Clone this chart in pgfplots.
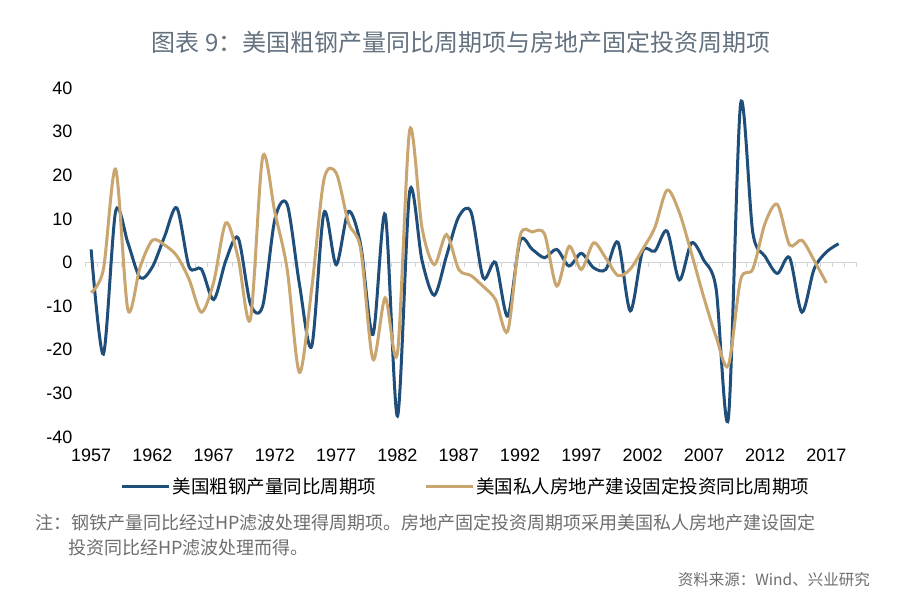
\documentclass[border=0pt]{standalone}
\usepackage{pgfplots}
\pgfplotsset{compat=1.18}
\usepackage{fontspec}
\setmainfont{Liberation Sans}
\newfontfamily\cjk{Noto Sans CJK SC}
\definecolor{steel}{RGB}{30,78,121}
\definecolor{house}{RGB}{201,166,112}
\definecolor{titlec}{RGB}{100,114,128}
\definecolor{notec}{RGB}{110,110,110}
\definecolor{zeroc}{RGB}{210,212,216}
\begin{document}
\begin{tikzpicture}
\useasboundingbox (0pt,0pt) rectangle (900pt,612pt);
\fill[white] (0pt,0pt) rectangle (900pt,612pt);
% title
\node[anchor=center, text=titlec, font=\cjk\fontsize{24}{28}\selectfont] at (461pt,570pt) {图表 9：美国粗钢产量同比周期项与房地产固定投资周期项};
% zero line and small ticks
\draw[zeroc, line width=1.5pt] (85pt,349.5pt) -- (857pt,349.5pt);
\foreach \i in {0,...,63} {\pgfmathsetmacro{\xx}{85+\i*12.25}\draw[zeroc, line width=1pt] (\xx pt,349.5pt) -- (\xx pt,345pt);}
\begin{axis}[
  at={(85pt,175pt)}, anchor=south west,
  scale only axis, width=772pt, height=349pt,
  xmin=1956.5, xmax=2019.5, ymin=-40, ymax=40,
  axis line style={draw=none},
  xtick pos=bottom, ytick pos=left,
  xtick={1957,1962,...,2017}, ytick={-40,-30,...,40},
  major tick length=0pt, tick style={draw=none},
  tick label style={font=\fontsize{18}{20}\selectfont, text=black},
  /pgf/number format/assume math mode=true,
  xticklabel style={/pgf/number format/set thousands separator={}, yshift=-8pt},
  yticklabel style={xshift=-9pt},
  clip=false,
  legend style={at={(0.4935,-0.143)}, anchor=center, draw=none, fill=none,
    legend columns=2, font=\cjk\fontsize{18.5}{20}\selectfont,
    /tikz/every even column/.append style={column sep=46pt},
    inner sep=0pt, cells={anchor=west}},
  legend image code/.code={\draw[#1] (0pt,0pt) -- (47pt,0pt);},
]
\addplot[steel, line width=3pt, smooth, tension=0.5] coordinates {
(1957,3.0) (1958,-21) (1959,11.7) (1960,4.5) (1961,-3.5) (1962,-1) (1963,6) (1964,12.5)
(1965,-1) (1966,-1.5) (1967,-8.5) (1968,0.5) (1969,5.6) (1970,-9.5) (1971,-10) (1972,10)
(1973,13.3) (1974,-5) (1975,-19.2) (1976,11.4) (1977,-0.5) (1978,11.7) (1979,4) (1980,-16.5)
(1981,11) (1982,-35.2) (1983,16.3) (1984,0.5) (1985,-7.5) (1986,1.5) (1987,10.5) (1988,11.6)
(1989,-3.5) (1990,0) (1991,-12.3) (1992,4.9) (1993,3) (1994,1.1) (1995,3) (1996,-0.8)
(1997,2.1) (1998,-1.2) (1999,-1.6) (2000,4.6) (2001,-11.1) (2002,2.6) (2003,2.6) (2004,7.2)
(2005,-4.0) (2006,4.5) (2007,0.5) (2008,-6) (2009,-35.8) (2010,36.3) (2011,6.8) (2012,1.4)
(2013,-2.5) (2014,1.1) (2015,-11.4) (2016,-1.5) (2017,2.4) (2018,4.3)
};
\addlegendentry{美国粗钢产量同比周期项}
\addplot[house, line width=3pt, smooth, tension=0.5] coordinates {
(1957,-6.9) (1958,-1.6) (1959,21.4) (1960,-10.8) (1961,-1) (1962,5.1) (1963,4) (1964,1.5)
(1965,-3.9) (1966,-11.4) (1967,-4.5) (1968,9.1) (1969,1) (1970,-13) (1971,24.2) (1972,11.4)
(1973,-1.6) (1974,-25.2) (1975,-6) (1976,19) (1977,20.5) (1978,9.1) (1979,3) (1980,-22.2)
(1981,-8.1) (1982,-20.7) (1983,30.4) (1984,8) (1985,-0.5) (1986,6.4) (1987,-1.6) (1988,-3)
(1989,-5.5) (1990,-8.5) (1991,-15.7) (1992,6) (1993,7) (1994,6.5) (1995,-5.4) (1996,3.7)
(1997,-1.6) (1998,4.5) (1999,1) (2000,-3) (2001,-1.5) (2002,3) (2003,8) (2004,16.6)
(2005,11.5) (2006,2) (2007,-8) (2008,-17) (2009,-23.6) (2010,-4) (2011,-1.5) (2012,9)
(2013,13.3) (2014,4) (2015,5.1) (2016,0.5) (2017,-4.7)
};
\addlegendentry{美国私人房地产建设固定投资同比周期项}
\end{axis}
% note and source
\node[anchor=west, text=notec, font=\cjk\fontsize{18}{20}\selectfont, inner sep=0pt] at (35pt,89pt) {注：钢铁产量同比经过HP滤波处理得周期项。房地产固定投资周期项采用美国私人房地产建设固定};
\node[anchor=west, text=notec, font=\cjk\fontsize{18}{20}\selectfont, inner sep=0pt] at (68pt,64pt) {投资同比经HP滤波处理而得。};
\node[anchor=east, text=notec, font=\cjk\fontsize{15.5}{18}\selectfont, inner sep=0pt] at (870pt,32pt) {资料来源：Wind、兴业研究};
\end{tikzpicture}
\end{document}
